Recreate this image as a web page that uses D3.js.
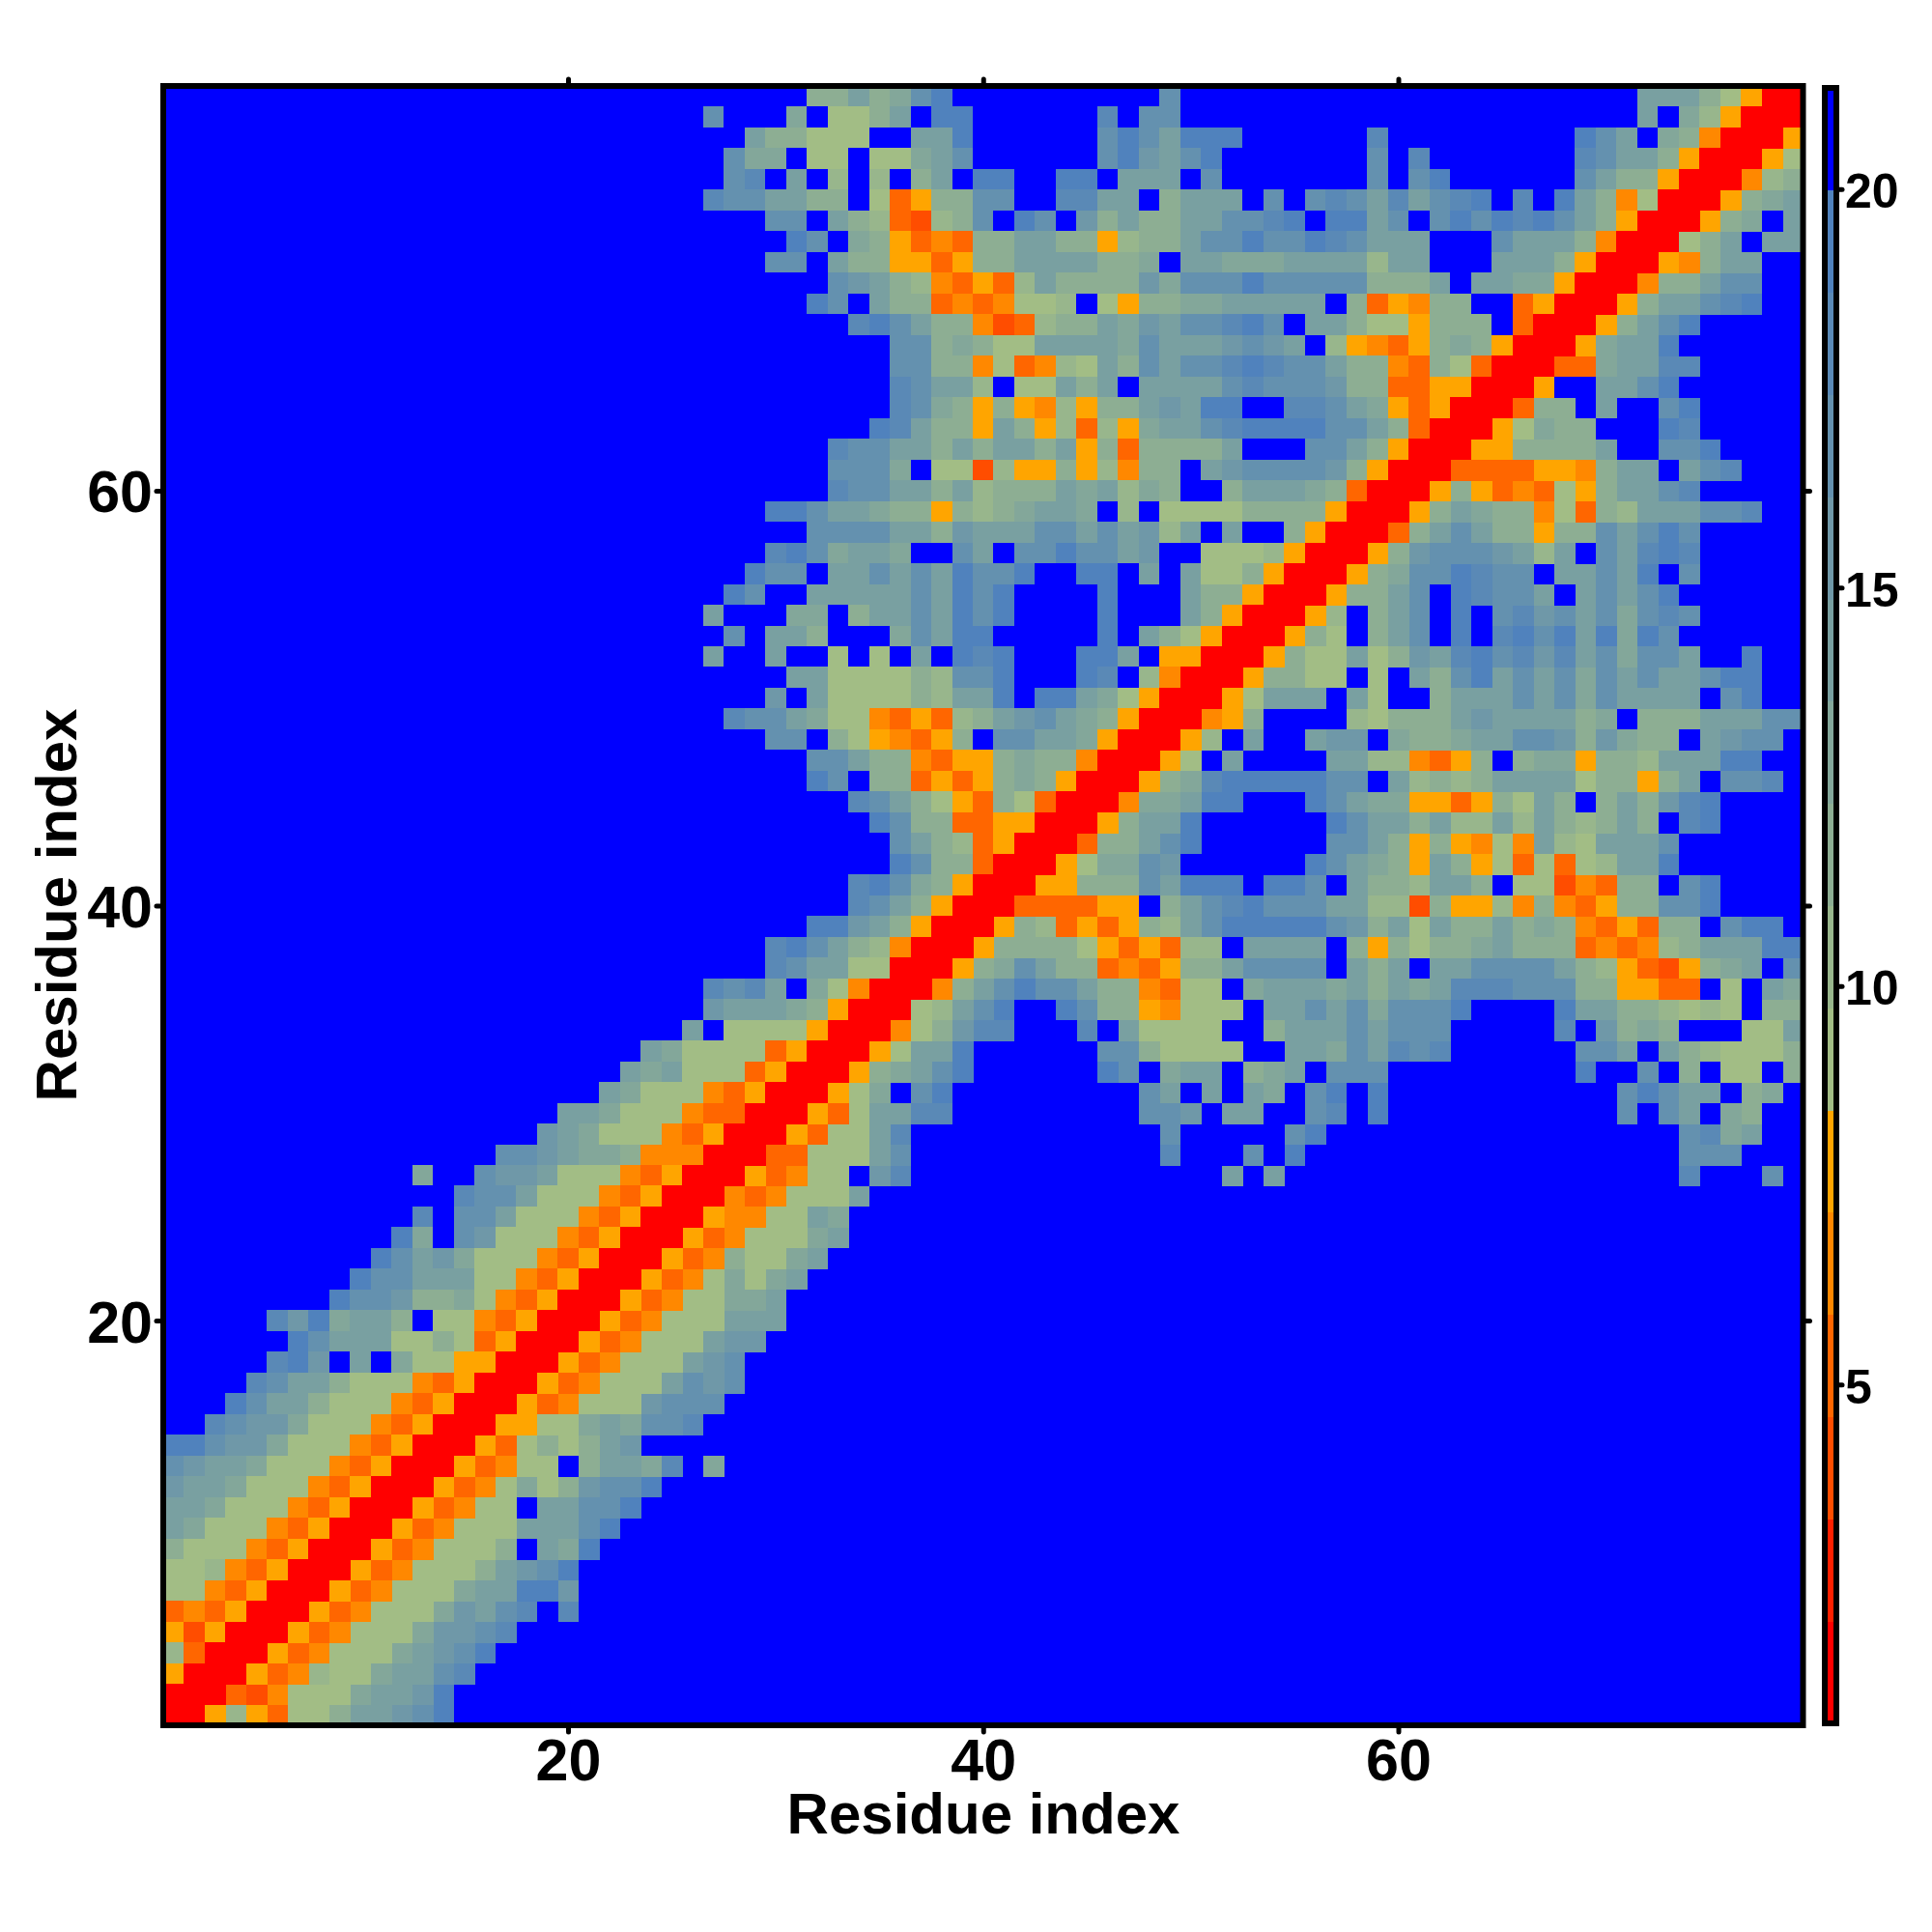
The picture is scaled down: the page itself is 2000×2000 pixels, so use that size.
<!DOCTYPE html>
<html>
<head>
<meta charset="utf-8">
<script src="https://cdnjs.cloudflare.com/ajax/libs/d3/7.8.5/d3.min.js"></script>
<style>
html,body{margin:0;padding:0;background:#fff}
svg{display:block}
text{font-family:"Liberation Sans",Arial,sans-serif;font-weight:bold;fill:#000}
</style>
</head>
<body>
<svg id="chart" width="2000" height="2000"></svg>
<script>
const residueCount = 79;
const axisTicks = [20, 40, 60];
const colorbarTicks = [5, 10, 15, 20];
const axisTitle = "Residue index";
const distanceDomain = [0.75, 21.27];
const levelColors = ["#ff0000","#ff2000","#ff4d00","#ff6600","#ff8800","#ffa500",
  "#a2bd85","#98b68c","#8dae93","#83a79a","#79a0a1","#6f98a8","#6491af","#5a89b6","#5082bd","#0000ff"];
const levelCodes = "RTDOMA123456789.";
const levelDistances = [1.4,2.7,3.9,5.2,6.5,7.8,9.1,10.4,11.7,13.0,14.2,15.5,16.8,18.1,19.4,20.7];
// Symmetric distance map: each line is one y residue (79 at top), columns x = 1..y, groups of ten
const triangleRows = [
".......... .......... .......... .3353479.. ........7. .......... .......... .5553 1ARR",
".......... .......... ......7... 4.1135.99. .....8.77. .......... .......... .5.42ARR",
".......... .......... ........53 3111..559. .....79759 99......8. ........97 5.43MRR",
".......... .......... .......744 .11.11457. .....79657 9.......7. 8.......87 553ARR",
".......... .......... .......78. 5.2.2.35.9 9..99.555. 7.......7. 79......75 33ARR",
".......... .......... ......8775 533.1OA337 7..8855.35 55.7.78758 5789.8.953 M1RR",
".......... .......... .........7 7.532OD237 .97.635335 57789.9957 .797989753 ARR",
".......... .......... .......... 97.43AOMO3 35533A2335 7797798755 5...75553M RR",
".......... .......... .........7 7.533AAOA3 35555334.5 5444555525 5...5553AR R",
".......... .......... .......... ..76532MOA O253333647 7797777733 35.5544ARR",
".......... .......... .......... .97.533OMO M112.1A334 455555.3OA M33..OARR",
".......... .......... .......... ...897533M DO23354657 7897.55311 A333.ORR",
".......... .......... .......... .....77343 1155554755 56765.2AMO A343ARR",
".......... .......... .......... .....7733M 1OM2153757 789877533M O31ORR",
".......... .......... .......... .....87552 .11535.555 578777633O OAARR",
".......... .......... .......... .....8743A 3AM2A33565 99..88754A OARR",
".......... .......... .......... ....98533A 53A2O2A455 7899997753 ORR",
".......... .......... .......... ..87755353 5535A3O333 35...7753A RR",
".......... .......... .......... ..7774.11D 2AA3A2M33. 56777763AR R",
".......... .......... .......... ..87755352 333545243. .355543ORR",
".......... .......... .........9 9755433A32 34554.2.11 113333ARR",
".......... .......... .......... .777755365 5577575625 .5..3ARR",
".......... .......... .........8 974554..75 .7797756.. 1112ARR",
".......... .......... ........97 7.55757597 79..99.5.5 113ARR",
".......... .......... .......97. .555557597 9....9...5 33ARR",
".......... .......... ......5... 44.3557597 9....9...5 3ARR",
".......... .......... .......7.5 53...47599 .....9.531 ARR",
".......... .......... ......5..5 ..1.1.5.98 9...995.AA RR",
".......... .......... .......... 5511113277 9...98.2MR R",
".......... .......... .........6 .511113255 9.99541ARR",
".......... .......... .......877 5411MOAO23 567543ARR",
".......... .......... .........7 7.31AMOA3. 77554ARR",
".......... .......... .......... .77533MOAA 3433MRR",
".......... .......... .......... .97.33OAOA 343ARR",
".......... .......... .......... ...87531AO 31ORR",
".......... .......... .......... ....9733OO AARR",
".......... .......... .......... .....7532O ARR",
".......... .......... .......... .....9733O RR",
".......... .......... .......... ...89743AR R",
".......... .......... .......... ...8753ARR",
".......... .......... .......... .99653ARR",
".......... .......... .........8 97532MRR",
".......... .......... .........8 75511RR",
".......... .......... ......8785 .41MRR",
".......... .......... ......6555 43ARR",
".......... .......... .....5.111 1ARR",
".......... .......... ...541111O ARR",
".......... .......... ..545111OA RR",
".......... .......... .54111MOAR R",
".......... .........5 54111MOORR",
".......... ........65 4111MOARR",
".......... ......7765 443MMMRR",
".......... ..4..76651 11MOARR",
".......... ....877511 1MOARR",
".......... ..8.775111 MOARR",
".......... .94.76111M OARR",
".......... 97564111MO ARR",
".........9 7755511MOA RR",
"........97 763341MOAR R",
".....86945 53.11MOARR",
"......9755 51131OARR",
".....896.5 .411AARR",
"....875531 11MOARR",
"...9755311 1MOARR",
"..87664111 MOARR",
"997664111M OARR",
"76554111MO ARR",
"6554111MOA RR",
"554111MOAR R",
"54111MOARR",
"3111MOARR",
"112MOARR",
"11MOARR",
"OMOARR",
"ADARR",
"2ORR",
"ARR",
"RR",
"R"
];

const svg = d3.select("#chart");
const x = d3.scaleLinear().domain([0.5, residueCount + 0.5]).range([169, 1866.5]);
const y = d3.scaleLinear().domain([0.5, residueCount + 0.5]).range([1786, 89]);
const color = d3.scaleQuantize().domain(distanceDomain).range(levelColors);

// Expand the triangle into cells on both sides of the diagonal
const cells = [];
triangleRows.forEach((line, idx) => {
  const row = residueCount - idx;
  const chars = line.replace(/ /g, "");
  for (let col = 1; col <= row; col++) {
    const ch = chars[col - 1] || ".";
    const d = levelDistances[levelCodes.indexOf(ch)];
    cells.push({ x: col, y: row, d });
    if (col !== row) cells.push({ x: row, y: col, d });
  }
});

svg.append("g").attr("shape-rendering", "crispEdges")
  .selectAll("rect").data(cells).join("rect")
  .attr("x", d => x(d.x - 0.5))
  .attr("y", d => y(d.y + 0.5))
  .attr("width", d => x(d.x + 0.5) - x(d.x - 0.5) + 0.5)
  .attr("height", d => y(d.y - 0.5) - y(d.y + 0.5) + 0.5)
  .attr("fill", d => color(d.d));

function styleAxis(g, size, dy) {
  g.select(".domain").remove();
  g.selectAll(".tick line").attr("stroke", "#000").attr("stroke-width", 5).attr("stroke-linecap", "round");
  g.selectAll(".tick text").attr("font-size", size).attr("font-weight", "bold").attr("font-family", '"Liberation Sans",Arial,sans-serif');
  if (dy) g.selectAll(".tick text").attr("dy", dy);
}
const fmt = d => d;
svg.append("g").attr("transform", "translate(0,1786)")
  .call(d3.axisBottom(x).tickValues(axisTicks).tickFormat(fmt).tickSize(7).tickPadding(6.7))
  .call(g => styleAxis(g, 61));
svg.append("g").attr("transform", "translate(169,0)")
  .call(d3.axisLeft(y).tickValues(axisTicks).tickFormat(fmt).tickSize(7).tickPadding(4))
  .call(g => styleAxis(g, 61, "0.36em"));
svg.append("g").attr("transform", "translate(0,89)")
  .call(d3.axisTop(x).tickValues(axisTicks).tickFormat("").tickSize(7))
  .call(g => styleAxis(g, 61));
svg.append("g").attr("transform", "translate(1866.5,0)")
  .call(d3.axisRight(y).tickValues(axisTicks).tickFormat("").tickSize(7))
  .call(g => styleAxis(g, 61));

svg.append("rect").attr("x", 169).attr("y", 89).attr("width", 1697.5).attr("height", 1697)
  .attr("fill", "none").attr("stroke", "#000").attr("stroke-width", 6);

svg.append("text").attr("x", 1018).attr("y", 1898).attr("text-anchor", "middle")
  .attr("font-size", 60).text(axisTitle);
svg.append("text").attr("transform", "translate(79,937) rotate(-90)").attr("text-anchor", "middle")
  .attr("font-size", 60).text(axisTitle);

// Colour bar
const cbY = d3.scaleLinear().domain(distanceDomain).range([1784, 91]);
const thresholds = [distanceDomain[0], ...color.thresholds(), distanceDomain[1]];
svg.append("g").attr("shape-rendering", "crispEdges")
  .selectAll("rect").data(levelColors).join("rect")
  .attr("x", 1889).attr("width", 12)
  .attr("y", (c, i) => cbY(thresholds[i + 1]))
  .attr("height", (c, i) => cbY(thresholds[i]) - cbY(thresholds[i + 1]) + 0.5)
  .attr("fill", c => c);
svg.append("rect").attr("x", 1889).attr("y", 91).attr("width", 12).attr("height", 1693)
  .attr("fill", "none").attr("stroke", "#000").attr("stroke-width", 6);
svg.append("g").attr("transform", "translate(1904,0)")
  .call(d3.axisRight(cbY).tickValues(colorbarTicks).tickFormat(fmt).tickSize(3).tickPadding(3))
  .call(g => styleAxis(g, 50, "0.38em"))
  .call(g => g.selectAll(".tick text").attr("text-anchor", "start"));
</script>
</body>
</html>
